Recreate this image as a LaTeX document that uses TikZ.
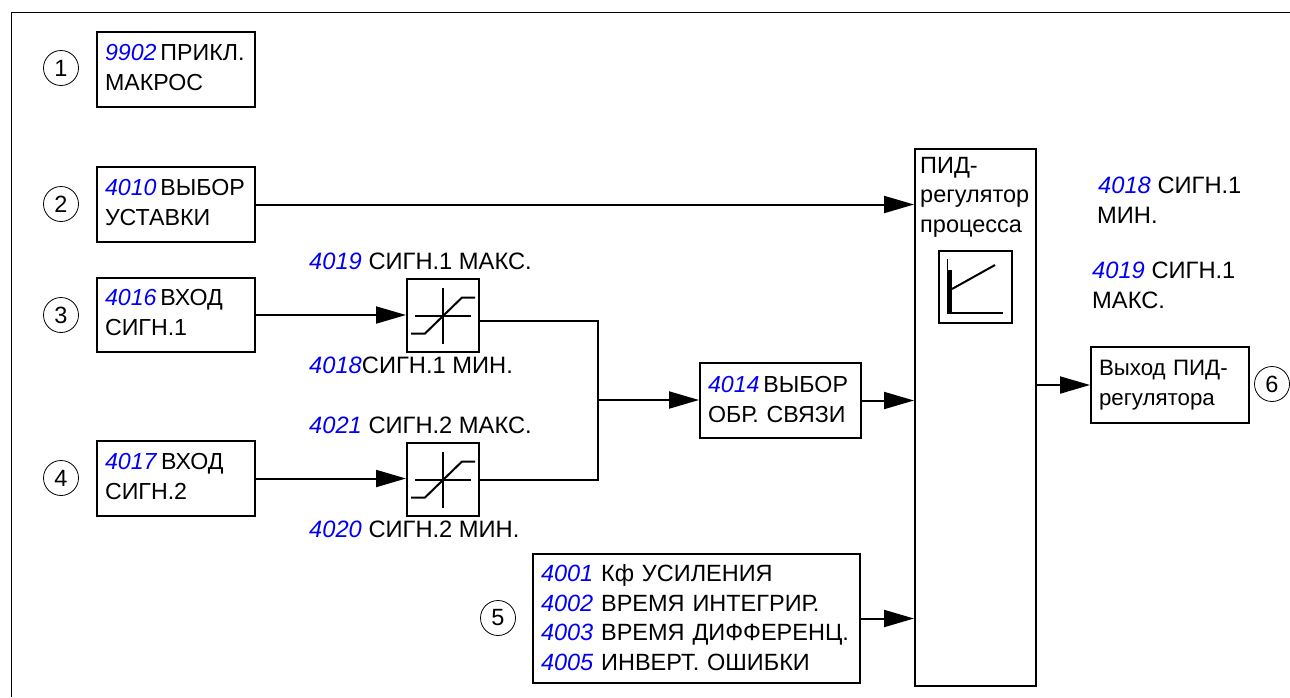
\documentclass[tikz,border=0pt]{standalone}
\usepackage{fontspec}
\setmainfont{Liberation Sans}
\usetikzlibrary{arrows.meta,calc}
\definecolor{parblue}{RGB}{0,0,245}
\newcommand{\pn}[1]{\textcolor{parblue}{\textit{#1}}}
\newcommand{\lift}[1]{\rule[-#1]{0pt}{#1}}
\tikzset{
  x=1pt,y=-1pt,
  box/.style={draw=black,line width=2pt,anchor=north west,inner xsep=8pt,inner ysep=0pt,text width=#1,align=left,
     font=\fontsize{23.2}{30}\selectfont},
  plainbox/.style={draw=black,line width=2pt,anchor=north west,inner sep=0pt},
  num/.style={draw=black,line width=0.8pt,circle,minimum size=35pt,inner sep=0pt,font=\fontsize{23.5}{26}\selectfont},
  lab/.style={anchor=base west,inner sep=0pt,font=\fontsize{23.7}{30}\selectfont},
  conn/.style={line width=2pt},
  arr/.style={line width=2pt,-{Triangle[length=30pt,width=17pt]}},
  icon/.style={line width=2pt}
}
\begin{document}
\begin{tikzpicture}
\useasboundingbox (0,0) rectangle (1290,697);
\coordinate (fa) at (1290,12);
\coordinate (fb) at (11,12);
\coordinate (fc) at (11,697);
\draw[line width=1pt] (fa) -- (fb) -- (fc);

% numbered circles
\node[num] (n1) at (61,68) {1};
\node[num] (n2) at (61,204) {2};
\node[num] (n3) at (61,315) {3};
\node[num] (n4) at (61,478) {4};
\node[num] (n5) at (498,618) {5};
\node[num] (n6) at (1272,384) {6};

% input boxes
\node[box=142pt,minimum height=75pt] (b1) at (96,31) {\pn{9902}\,ПРИКЛ.\\МАКРОС\lift{5pt}};
\node[box=142pt,minimum height=75pt] (b2) at (96,166) {\pn{4010}\,ВЫБОР\\УСТАВКИ\lift{5pt}};
\node[box=142pt,minimum height=74pt] (b3) at (96,277) {\pn{4016}\,ВХОД\\СИГН.1\lift{5pt}};
\node[box=142pt,minimum height=75pt] (b4) at (96,440) {\pn{4017}\,ВХОД\\СИГН.2\lift{5pt}};

% limiters
\node[plainbox,minimum width=72pt,minimum height=73pt] (l1) at (406,278) {};
\node[plainbox,minimum width=72pt,minimum height=73pt] (l2) at (406,442) {};
\foreach \l in {l1,l2}{
  \begin{scope}[shift={(\l.center)}]
    \draw[icon] (-28,0) -- (28,0);
    \draw[icon] (0,-28) -- (0,28);
    \draw[icon] (-32,18) -- (-18,18) -- (19,-18) -- (32,-18);
  \end{scope}
}

% feedback selector
\node[box=145pt,minimum height=75pt] (fb1) at (699,362) {\pn{4014}\,ВЫБОР\\ОБР. СВЯЗИ\lift{2pt}};

% PID block
\node[plainbox,minimum width=121pt,minimum height=537pt] (pid) at (914,148) {};
\node[anchor=base west,inner sep=0pt,align=left,font=\fontsize{23.5}{29.5}\selectfont,text width=115pt] (pidt) at (920,173) {ПИД-\\регулятор\\процесса};
\node[plainbox,minimum width=73pt,minimum height=72pt] (ic) at (938,250) {};
\begin{scope}[shift={(ic.north west)}]
  \draw[line width=1.3pt] (9.5,9) -- (9.5,64);
  \draw[line width=5pt] (11.5,20) -- (11.5,64);
  \draw[icon] (9.5,63) -- (65,63);
  \draw[icon] (14,39) -- (57,15);
\end{scope}

% output
\node[box=142pt,minimum height=76pt,font=\fontsize{22.3}{30}\selectfont] (out) at (1090,346) {Выход ПИД-\\регулятора};

% parameter list
\node[box=311pt,minimum height=129pt,font=\fontsize{23.5}{29.5}\selectfont] (b5) at (532,553) {\pn{4001} Кф УСИЛЕНИЯ\\\pn{4002} ВРЕМЯ ИНТЕГРИР.\\\pn{4003} ВРЕМЯ ДИФФЕРЕНЦ.\\\pn{4005} ИНВЕРТ. ОШИБКИ\lift{2pt}};

% labels
\node[lab] (t1) at (309,269) {\pn{4019} СИГН.1 МАКС.};
\node[lab] (t2) at (309,373) {\pn{4018}СИГН.1 МИН.};
\node[lab] (t3) at (309,433) {\pn{4021} СИГН.2 МАКС.};
\node[lab] (t4) at (309,537) {\pn{4020} СИГН.2 МИН.};
\node[lab] (t5) at (1098,193) {\pn{4018} СИГН.1};
\node[lab] (t6) at (1097,223) {МИН.};
\node[lab] (t7) at (1092,278) {\pn{4019} СИГН.1};
\node[lab] (t8) at (1092,308) {МАКС.};

% connectors
\coordinate (busa) at (598,321);
\coordinate (busb) at (598,400);
\draw[arr] (b2.east) -- (pid.west |- b2.east);
\draw[arr] (b3.east) -- (l1.west |- b3.east);
\draw[arr] (b4.east) -- (l2.west |- b4.east);
\draw[conn,line join=miter] (l1.east |- busa) -- (busa) -- (busa |- l2.east) -- (l2.east);
\draw[arr] (busb) -- (fb1.west |- busb);
\draw[arr] (fb1.east) -- (pid.west |- fb1.east);
\draw[arr] (b5.east) -- (pid.west |- b5.east);
\draw[arr] (pid.east |- out.west) -- (out.west);
\end{tikzpicture}
\end{document}
